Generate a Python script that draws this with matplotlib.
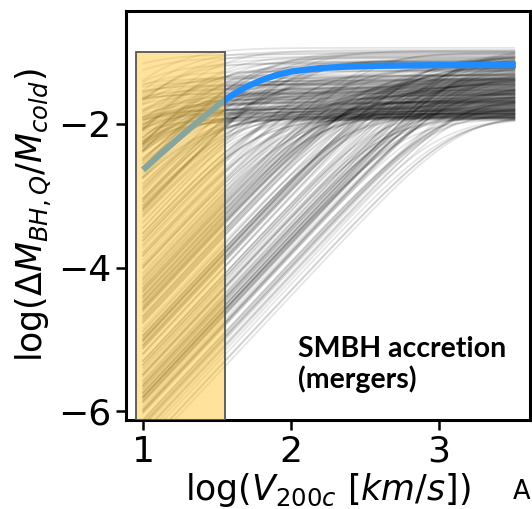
import numpy as np
import matplotlib
matplotlib.use("Agg")
import matplotlib.pyplot as plt
from matplotlib.patches import Rectangle

# posterior draws: plateau level and knee position (log V200c) of each curve
plateau_flat = [-0.94, -1.62, -1.21, -1.85, -1.05, -1.48, -1.33, -1.77, -0.99, -1.58,
                -1.12, -1.90, -1.27, -1.69, -1.41, -1.03, -1.83, -1.52, -1.16, -1.74,
                -1.36, -0.97, -1.88, -1.45, -1.24, -1.66, -1.09, -1.55, -1.80, -1.31,
                -1.19, -1.72, -1.01, -1.60, -1.39, -1.86, -1.14, -1.50, -1.79, -1.26,
                -1.64, -1.07, -1.43, -1.91, -1.35, -1.70, -1.22, -1.57, -1.82, -1.46,
                -1.78, -1.52, -1.91, -1.64, -1.40, -1.86, -1.71, -1.57, -1.94, -1.46,
                -1.82, -1.68, -1.37, -1.89, -1.60, -1.75, -1.49, -1.93, -1.66, -1.43,
                -1.84, -1.55, -1.72, -1.90, -1.62, -1.38, -1.80, -1.69, -1.51, -1.87,
                -1.59, -1.76, -1.44, -1.92, -1.65, -1.83, -1.54, -1.73, -1.41, -1.88,
                -1.61, -1.79, -1.48, -1.95, -1.67, -1.85, -1.56, -1.70, -1.39, -1.81,
                -1.63, -1.90, -1.50, -1.77, -1.58, -1.86, -1.45, -1.74, -1.92, -1.53]
knee_flat = [1.12, 0.85, 1.34, 0.72, 1.45, 1.05, 0.93, 1.28, 1.18, 0.66,
             1.40, 1.02, 0.88, 1.22, 1.48, 0.79, 1.10, 1.36, 0.95, 1.25,
             0.70, 1.43, 1.15, 0.98, 1.30, 0.83, 1.20, 1.47, 0.76, 1.08,
             1.38, 0.90, 1.26, 1.00, 1.42, 0.81, 1.16, 1.32, 0.74, 1.44,
             1.06, 0.87, 1.24, 1.35, 0.96, 1.14, 1.46, 0.68, 1.29, 1.04,
             1.21, 0.74, 1.39, 0.97, 1.10, 1.46, 0.82, 1.27, 1.03, 0.69,
             1.33, 1.15, 0.91, 1.42, 0.78, 1.19, 1.49, 0.86, 1.07, 1.31,
             0.72, 1.24, 1.44, 0.94, 1.13, 1.37, 0.80, 1.01, 1.29, 0.89,
             1.47, 1.17, 0.76, 1.35, 1.05, 0.92, 1.41, 1.23, 0.67, 1.11,
             1.30, 0.84, 1.45, 0.99, 1.19, 1.38, 0.73, 1.08, 1.26, 0.95,
             1.43, 1.14, 0.81, 1.34, 1.02, 1.22, 0.88, 1.48, 1.09, 1.32]

plateau_steep = [-1.71, -1.23, -1.88, -1.05, -1.54, -1.37, -1.92, -1.14, -1.63, -0.98,
                 -1.46, -1.81, -1.29, -1.67, -1.09, -1.51, -1.85, -1.20, -1.76, -1.41,
                 -1.02, -1.59, -1.33, -1.90, -1.17, -1.73, -1.48, -1.26, -1.83, -1.11,
                 -1.65, -1.39, -1.93, -1.07, -1.57, -1.31, -1.79, -1.21, -1.50, -1.86,
                 -1.00, -1.68, -1.35, -1.80, -1.13, -1.61, -1.44, -1.89, -1.25, -1.74,
                 -1.53, -0.96, -1.70, -1.28, -1.84, -1.16, -1.62, -1.42, -1.91, -1.08,
                 -1.56, -1.34, -1.78, -1.19, -1.66, -1.47, -1.87, -1.04, -1.60, -1.30,
                 -1.82, -1.12, -1.49, -1.75, -1.22, -1.64, -1.38, -1.92, -1.06, -1.55,
                 -1.27, -1.81, -1.43, -1.69, -1.15, -1.58, -1.90, -1.32, -1.72, -1.01,
                 -1.45, -1.85, -1.24, -1.63, -1.40, -1.77, -1.10, -1.52, -1.88, -1.36,
                 -1.44, -1.86, -1.18, -1.67, -1.03, -1.79, -1.52, -1.28, -1.91, -1.35,
                 -1.60, -1.10, -1.83, -1.47, -1.22, -1.74, -0.99, -1.63, -1.39, -1.88,
                 -1.15, -1.57, -1.31, -1.80, -1.06, -1.69, -1.49, -1.25, -1.92, -1.42,
                 -1.76, -1.13, -1.59, -1.34, -1.85, -1.20, -1.65, -1.02, -1.54, -1.81,
                 -1.29, -1.71, -1.45, -1.89, -1.08, -1.62, -1.37, -1.78, -1.17, -1.56,
                 -1.93, -1.26, -1.68, -1.41, -1.84, -1.11, -1.51, -1.73, -1.33, -0.97,
                 -1.61, -1.87, -1.21, -1.48, -1.77, -1.04, -1.66, -1.38, -1.90, -1.27,
                 -1.55, -1.82, -1.14, -1.70, -1.43, -1.86, -1.19, -1.58, -1.32, -1.75,
                 -1.00, -1.64, -1.46, -1.91, -1.23, -1.53, -1.79, -1.36, -1.09, -1.72,
                 -1.50, -1.85, -1.30, -1.67, -1.16, -1.88, -1.40, -1.60, -1.24, -1.83]
knee_steep = [1.52, 2.87, 2.14, 3.11, 1.78, 2.46, 3.05, 1.63, 2.69, 2.01,
              3.14, 1.91, 2.58, 2.23, 3.12, 1.70, 2.94, 2.35, 1.57, 2.77,
              3.08, 2.08, 1.84, 2.63, 3.13, 2.29, 1.67, 2.99, 2.41, 1.96,
              3.08, 2.52, 1.74, 2.82, 3.15, 2.17, 1.60, 2.72, 2.04, 3.15,
              1.88, 2.55, 3.02, 2.26, 1.55, 2.91, 2.38, 3.10, 1.81, 2.66,
              2.11, 3.10, 1.72, 2.48, 2.97, 1.93, 3.12, 2.32, 1.65, 2.79,
              2.20, 3.06, 1.86, 2.60, 3.06, 2.43, 1.58, 2.85, 2.06, 3.13,
              1.99, 2.74, 3.14, 2.27, 1.76, 2.89, 2.50, 3.00, 1.69, 2.36,
              3.09, 2.13, 2.68, 1.83, 3.09, 2.45, 1.62, 2.93, 2.19, 3.05,
              2.56, 1.90, 3.04, 2.31, 2.80, 1.79, 3.13, 2.40, 2.02, 2.71,
              2.62, 1.97, 3.07, 2.24, 1.71, 2.83, 2.39, 3.14, 1.85, 2.51,
              2.09, 2.96, 1.64, 2.70, 3.01, 2.18, 1.79, 2.57, 2.33, 3.11,
              1.92, 2.78, 2.44, 1.59, 2.88, 2.15, 3.04, 2.65, 1.75, 2.28,
              2.99, 1.87, 2.53, 3.13, 2.05, 2.73, 1.68, 2.42, 2.91, 2.21,
              3.09, 1.82, 2.60, 2.34, 1.53, 2.84, 2.12, 2.97, 2.47, 1.94,
              2.76, 3.06, 2.25, 1.73, 2.64, 2.03, 2.90, 2.37, 1.61, 3.12,
              2.54, 2.16, 2.81, 1.89, 2.44, 3.02, 2.29, 1.77, 2.69, 2.10,
              2.95, 2.58, 1.66, 2.35, 3.08, 2.00, 2.75, 2.22, 1.84, 2.86,
              2.49, 3.15, 1.98, 2.63, 2.30, 1.70, 2.92, 2.41, 2.07, 2.79,
              3.03, 1.80, 2.55, 2.19, 2.88, 1.56, 2.67, 2.97, 2.13, 2.45]
slope = 2.2

# best-fit relation
best_x = [1.0, 1.1, 1.2, 1.3, 1.4, 1.5, 1.6, 1.7, 1.8, 1.9, 2.0, 2.2, 2.4, 2.6, 2.8, 3.0, 3.25, 3.52]
best_y = [-2.64, -2.45, -2.27, -2.09, -1.92, -1.75, -1.60, -1.48, -1.39, -1.32, -1.27,
          -1.22, -1.20, -1.19, -1.185, -1.18, -1.18, -1.18]

# range of log V200c not probed by the data
excluded = (0.955, 1.555)
excluded_top = -1.0

fig = plt.figure(figsize=(5.32, 5.09), dpi=100)
ax = fig.add_axes([0.237, 0.175, 0.759, 0.803])

logv = np.linspace(1.0, 3.51, 200)
for p, k in zip(plateau_flat + plateau_steep, knee_flat + knee_steep):
    curve = p - np.log10(1 + 10 ** (slope * (k - logv)))
    ax.plot(logv, curve, color="k", alpha=0.1, lw=1.3, zorder=1)

ax.plot(best_x, best_y, color="#1e8cff", lw=4.5, solid_capstyle="butt", zorder=2)

ax.add_patch(Rectangle((excluded[0], -6.12), excluded[1] - excluded[0], excluded_top + 6.12,
                       facecolor=(1.0, 0.765, 0.18, 0.47), edgecolor="#555555",
                       lw=1.3, zorder=3))

ax.text(2.05, -4.95, "SMBH accretion\n(mergers)", family="Lato", weight="bold",
        fontsize=20.5, va="top", ha="left", linespacing=1.15)

ax.set_xlim(0.885, 3.615)
ax.set_ylim(-6.12, -0.43)
ax.set_xticks([1, 2, 3])
ax.set_yticks([-6, -4, -2])
ax.tick_params(labelsize=26, width=1.8, length=7)
for s in ax.spines.values():
    s.set_linewidth(2.2)

ax.set_xlabel(r"log($V_{200c}$ [$km/s$])", fontsize=25, labelpad=2)
ax.set_ylabel(r"log($\Delta M_{BH,Q}/M_{cold}$)", fontsize=25, labelpad=4)

fig.text(0.964, 0.02, "A", fontsize=18.5, va="baseline", ha="left")

fig.savefig("out.png", dpi=100)
